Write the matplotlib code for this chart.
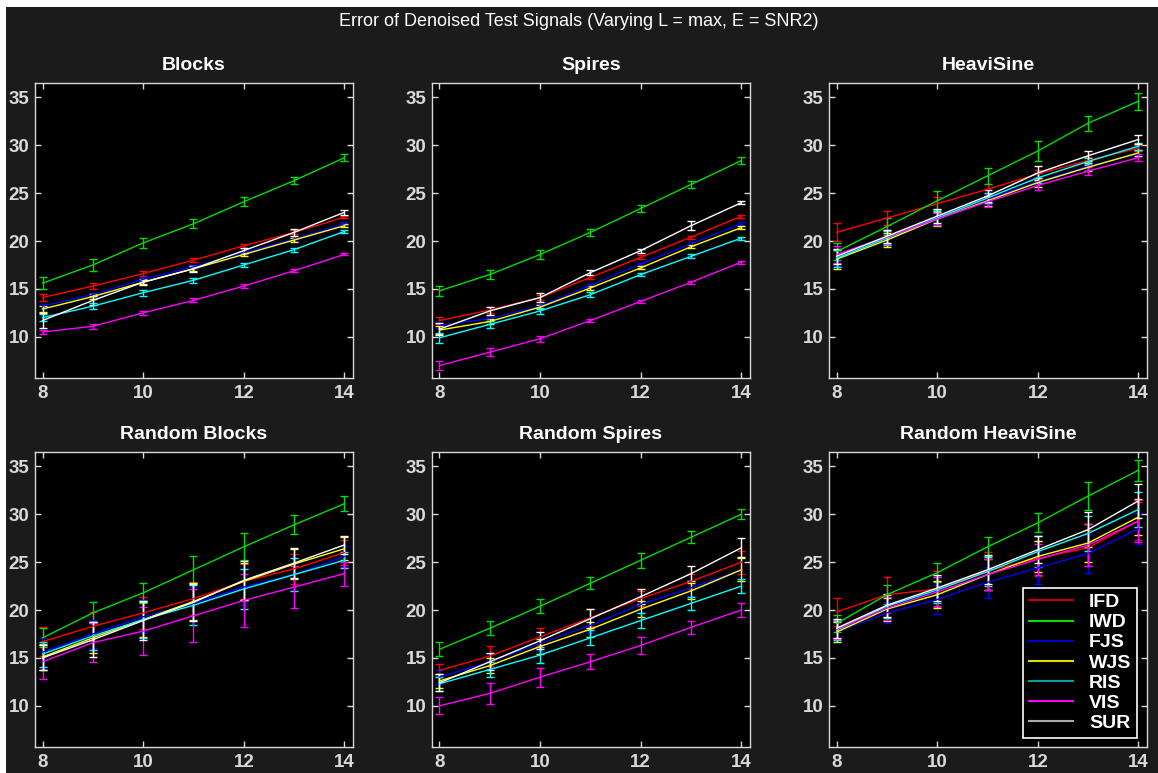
import matplotlib
matplotlib.use('Agg')
import matplotlib.pyplot as plt
from matplotlib.lines import Line2D
from matplotlib.patches import Rectangle
import numpy as np

plt.rcParams['font.family'] = ['Liberation Sans', 'DejaVu Sans']

# x values (log2 signal length)
levels = [8, 9, 10, 11, 12, 13, 14]
methods = ['IFD', 'IWD', 'FJS', 'WJS', 'RIS', 'VIS', 'SUR']
colors = ['#ff0000', '#00dd00', '#0000ff', '#ffff00', '#00ffff', '#ff00ff', '#ffffff']
legend_colors = ['#c00000', '#00dd00', '#0000cc', '#dddd00', '#00a0a0', '#ff00ff', '#aaaaaa']
titles = ['Blocks', 'Spires', 'HeaviSine', 'Random Blocks', 'Random Spires', 'Random HeaviSine']

# mean error per method (rows follow `methods`)
blocks = [
    [14.1, 15.3, 16.6, 18.0, 19.5, 20.9, 22.5],
    [15.6, 17.5, 19.8, 21.8, 24.1, 26.3, 28.7],
    [13.2, 14.4, 16.0, 17.3, 18.8, 20.2, 21.8],
    [12.9, 14.2, 15.7, 17.1, 18.6, 20.1, 21.6],
    [12.0, 13.2, 14.6, 15.9, 17.5, 19.1, 21.0],
    [10.5, 11.1, 12.5, 13.8, 15.3, 16.9, 18.6],
    [11.7, 13.8, 15.7, 17.1, 19.0, 20.9, 23.0],
]
blocks_err = [
    [0.4, 0.3, 0.25, 0.2, 0.2, 0.2, 0.15],
    [0.65, 0.6, 0.55, 0.45, 0.45, 0.4, 0.35],
    [0.25, 0.2, 0.2, 0.2, 0.15, 0.15, 0.15],
    [0.3, 0.25, 0.2, 0.2, 0.2, 0.2, 0.15],
    [0.35, 0.3, 0.3, 0.25, 0.25, 0.2, 0.15],
    [0.25, 0.25, 0.2, 0.2, 0.2, 0.15, 0.1],
    [0.8, 0.5, 0.3, 0.3, 0.3, 0.4, 0.25],
]
spires = [
    [11.7, 12.8, 14.1, 16.2, 18.3, 20.4, 22.6],
    [14.8, 16.5, 18.6, 20.9, 23.4, 25.9, 28.4],
    [11.2, 11.9, 13.2, 15.4, 17.6, 19.7, 21.8],
    [10.7, 11.6, 13.1, 15.1, 17.2, 19.4, 21.4],
    [9.9, 11.3, 12.7, 14.4, 16.5, 18.4, 20.3],
    [7.0, 8.4, 9.8, 11.7, 13.7, 15.7, 17.8],
    [10.8, 12.7, 14.1, 16.7, 19.0, 21.6, 24.0],
]
spires_err = [
    [0.4, 0.3, 0.3, 0.2, 0.2, 0.15, 0.15],
    [0.5, 0.5, 0.5, 0.4, 0.35, 0.35, 0.4],
    [0.3, 0.2, 0.2, 0.15, 0.15, 0.15, 0.15],
    [0.4, 0.3, 0.2, 0.2, 0.15, 0.15, 0.15],
    [0.5, 0.4, 0.35, 0.25, 0.2, 0.2, 0.15],
    [0.5, 0.4, 0.3, 0.2, 0.15, 0.15, 0.15],
    [0.6, 0.45, 0.5, 0.25, 0.2, 0.5, 0.15],
]
heavisine = [
    [20.9, 22.4, 23.9, 25.4, 27.0, 28.4, 29.7],
    [18.9, 21.5, 24.2, 26.8, 29.4, 32.3, 34.6],
    [18.3, 20.4, 22.5, 24.4, 26.2, 27.8, 29.1],
    [18.1, 20.1, 22.3, 24.2, 26.1, 27.7, 29.2],
    [18.2, 20.3, 22.4, 24.5, 26.6, 28.3, 29.9],
    [18.6, 20.4, 22.3, 24.1, 25.8, 27.3, 28.7],
    [18.4, 20.5, 22.6, 24.7, 27.1, 28.9, 30.6],
]
heavisine_err = [
    [0.95, 0.75, 0.7, 0.5, 0.4, 0.35, 0.3],
    [0.9, 0.9, 1.0, 0.8, 1.0, 0.77, 0.9],
    [0.9, 0.7, 0.6, 0.5, 0.5, 0.4, 0.35],
    [1.0, 0.7, 0.7, 0.5, 0.5, 0.4, 0.35],
    [0.9, 0.7, 0.7, 0.5, 0.5, 0.4, 0.35],
    [0.9, 0.7, 0.6, 0.5, 0.5, 0.4, 0.35],
    [0.8, 0.7, 0.7, 0.6, 0.7, 0.5, 0.5],
]
rand_blocks = [
    [16.7, 18.3, 19.7, 21.2, 23.0, 24.3, 26.0],
    [17.1, 19.7, 21.8, 24.2, 26.6, 28.9, 31.1],
    [15.6, 17.5, 19.3, 20.7, 22.4, 23.7, 25.6],
    [15.1, 17.1, 19.0, 20.9, 23.0, 24.8, 26.4],
    [15.4, 17.3, 19.0, 20.5, 22.2, 23.7, 25.2],
    [14.6, 16.6, 17.8, 19.4, 21.0, 22.4, 23.8],
    [15.0, 16.9, 18.9, 20.8, 23.1, 24.9, 26.8],
]
rand_blocks_err = [
    [1.5, 1.5, 1.7, 1.7, 1.8, 1.6, 1.3],
    [1.0, 1.1, 1.05, 1.4, 1.4, 1.0, 0.8],
    [1.5, 1.5, 1.7, 1.8, 1.9, 1.7, 1.1],
    [1.4, 1.6, 1.8, 1.9, 1.9, 1.6, 1.2],
    [1.3, 1.5, 1.9, 2.1, 2.1, 1.7, 0.85],
    [1.8, 2.0, 2.5, 2.75, 2.8, 2.2, 1.25],
    [1.3, 1.8, 2.0, 1.9, 2.0, 1.6, 0.9],
]
rand_spires = [
    [13.7, 15.2, 17.2, 19.2, 21.2, 23.0, 25.0],
    [15.9, 18.1, 20.4, 22.8, 25.2, 27.6, 30.0],
    [13.0, 14.6, 16.5, 18.4, 20.6, 22.3, 24.2],
    [12.6, 14.2, 16.2, 18.0, 20.1, 22.0, 24.2],
    [12.3, 13.8, 15.3, 17.1, 18.9, 20.7, 22.5],
    [10.0, 11.3, 13.0, 14.6, 16.3, 18.2, 20.0],
    [12.4, 14.6, 16.8, 19.1, 21.4, 23.8, 26.5],
]
rand_spires_err = [
    [0.7, 1.0, 0.9, 0.9, 0.8, 0.8, 1.2],
    [0.75, 0.75, 0.75, 0.6, 0.8, 0.6, 0.5],
    [0.7, 0.8, 0.8, 0.8, 0.8, 0.8, 1.2],
    [0.7, 0.8, 0.8, 0.8, 0.8, 0.8, 1.2],
    [0.7, 0.8, 0.8, 0.8, 0.8, 0.7, 0.7],
    [0.9, 1.1, 1.0, 0.8, 0.85, 0.65, 0.7],
    [0.9, 0.9, 0.9, 1.0, 0.8, 0.8, 1.0],
]
rand_heavisine = [
    [19.8, 21.6, 22.2, 24.1, 25.4, 26.5, 29.3],
    [18.6, 21.6, 23.9, 26.6, 29.1, 31.9, 34.6],
    [17.7, 19.7, 21.1, 22.9, 24.4, 25.9, 28.5],
    [17.7, 20.1, 21.6, 23.7, 25.6, 27.0, 29.7],
    [17.9, 20.4, 22.1, 24.0, 26.1, 28.0, 30.5],
    [18.0, 20.2, 21.9, 23.7, 25.3, 26.8, 29.3],
    [18.1, 20.5, 22.3, 24.2, 26.3, 28.4, 31.4],
]
rand_heavisine_err = [
    [1.5, 1.9, 1.9, 2.0, 1.8, 1.9, 2.0],
    [0.9, 1.0, 1.0, 1.0, 1.0, 1.5, 1.1],
    [1.0, 1.1, 1.5, 1.6, 1.7, 2.0, 1.6],
    [1.0, 1.2, 1.4, 1.6, 1.6, 2.0, 1.9],
    [1.0, 1.2, 1.4, 1.5, 1.6, 1.8, 1.8],
    [1.0, 1.2, 1.5, 1.6, 1.6, 2.2, 2.2],
    [1.0, 1.2, 1.4, 1.5, 1.4, 1.8, 1.8],
]

panels = [(blocks, blocks_err), (spires, spires_err), (heavisine, heavisine_err),
          (rand_blocks, rand_blocks_err), (rand_spires, rand_spires_err),
          (rand_heavisine, rand_heavisine_err)]

########################################
# figure / axis setup
fig = plt.figure(figsize=(11.58, 7.73), dpi=100)
fig.patch.set_facecolor('white')
# dark canvas (screenshot has a thin white margin at top and left)
fig.patches.append(Rectangle((6 / 1158, 0), 1, 1 - 7 / 773, transform=fig.transFigure,
                             facecolor='#1b1b1b', edgecolor='none', zorder=-10))

lefts = [0.0302, 0.373, 0.7159]
bottoms = [0.511, 0.0336]
w, h = 0.2746, 0.3817
tick_color = '#d8d8d8'

for i, (means, errs) in enumerate(panels):
    ax = fig.add_axes([lefts[i % 3], bottoms[i // 3], w, h])
    ax.set_facecolor('black')
    for k in range(len(methods)):
        ax.errorbar(levels, means[k], yerr=errs[k], color=colors[k],
                    linewidth=1.0, elinewidth=1.0, capsize=3, capthick=1.0)
    ax.set_xlim(7.85, 14.17)
    ax.set_ylim(5.7, 36.5)
    ax.set_xticks([8, 10, 12, 14])
    ax.set_yticks([10, 15, 20, 25, 30, 35])
    ax.tick_params(direction='in', length=4, width=1, colors=tick_color,
                   top=True, right=True, labelsize=13.5, pad=5)
    ax.tick_params(axis='y', pad=4)
    for lab in ax.get_xticklabels() + ax.get_yticklabels():
        lab.set_fontweight('bold')
    for s in ax.spines.values():
        s.set_color(tick_color)
        s.set_linewidth(1.0)
    ax.set_title(titles[i], color='white', fontsize=14, fontweight='bold', pad=9)

    if i == 5:
        handles = [Line2D([0], [0], color=c, linewidth=1.5) for c in legend_colors]
        leg = ax.legend(handles, methods, loc='lower right',
                        bbox_to_anchor=(0.969, 0.031), borderaxespad=0,
                        frameon=True, fancybox=False, handlelength=2.3,
                        labelspacing=0.13, borderpad=0.3, handletextpad=0.8,
                        prop={'weight': 'bold', 'size': 14})
        leg.get_frame().set_facecolor('black')
        leg.get_frame().set_edgecolor('white')
        leg.get_frame().set_linewidth(1.2)
        leg.get_frame().set_alpha(1)
        for t in leg.get_texts():
            t.set_color('white')

fig.text(0.5, 1 - 22 / 773, 'Error of Denoised Test Signals (Varying L = max, E = SNR2)',
         ha='center', va='center', color='white', fontsize=13)

fig.savefig('out.png', dpi=100, facecolor=fig.get_facecolor())
